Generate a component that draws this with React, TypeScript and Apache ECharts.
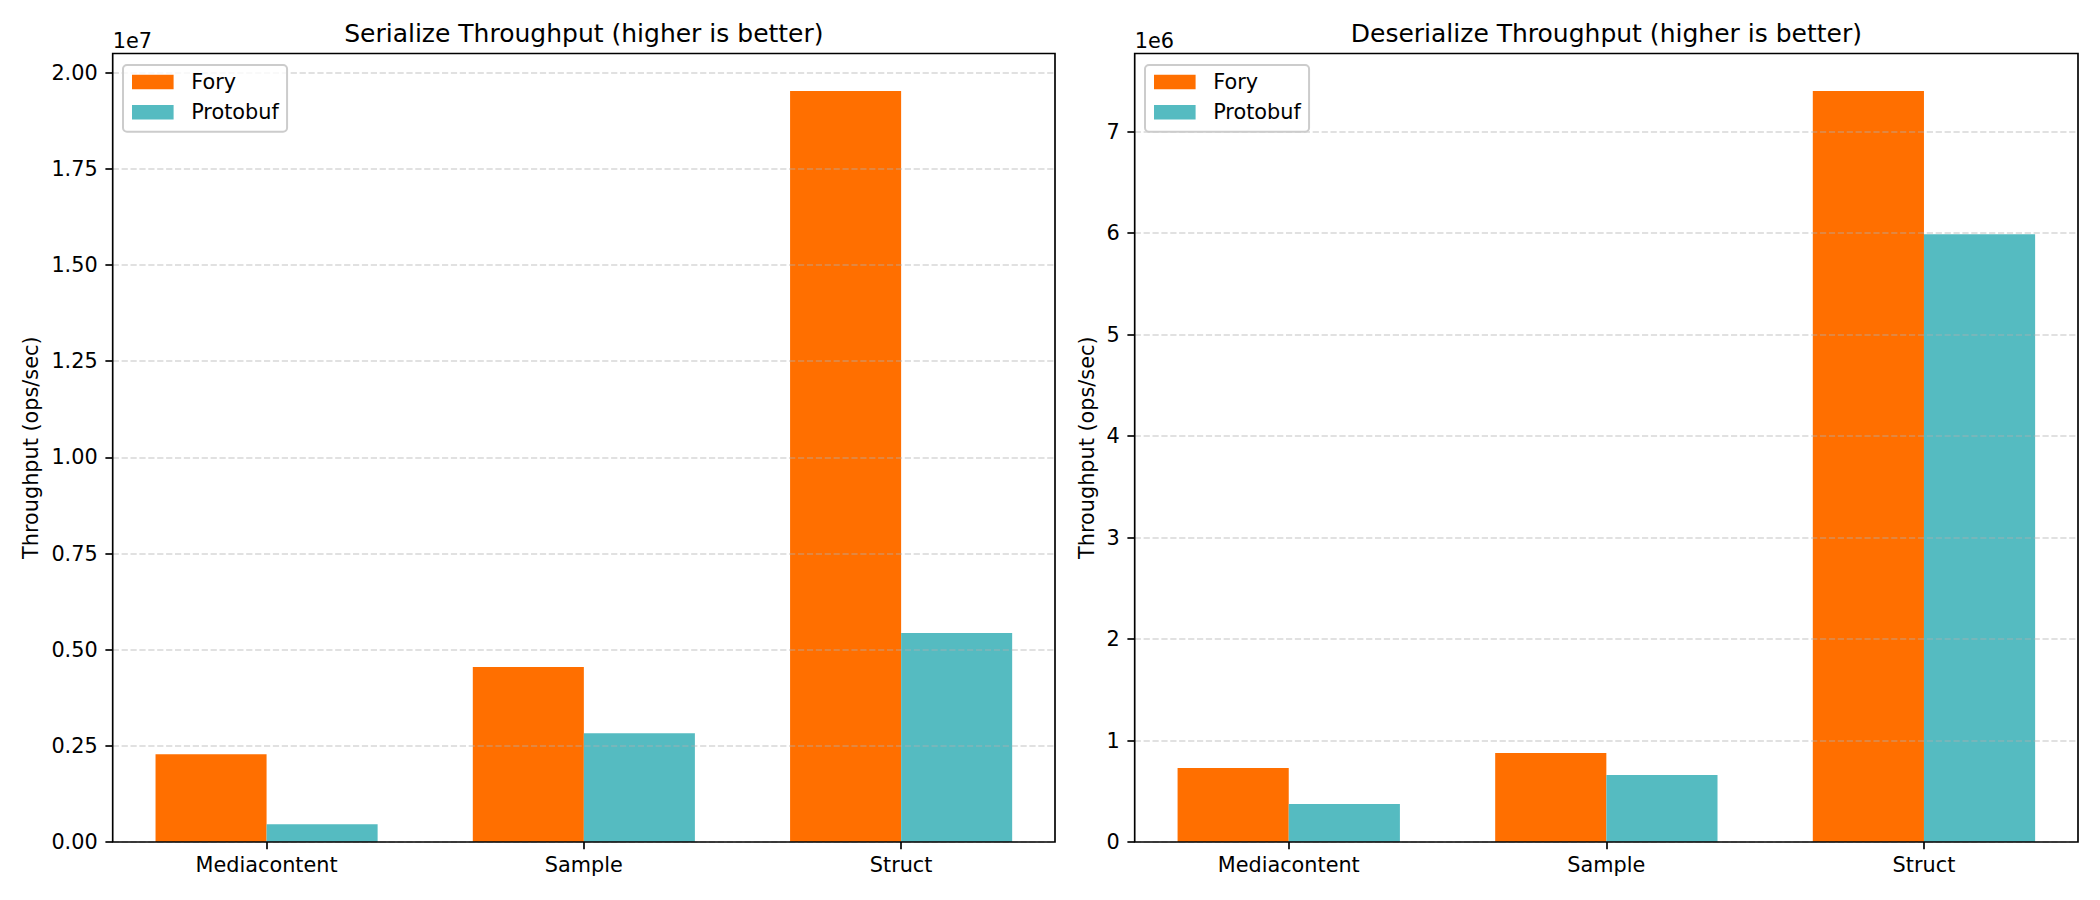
import React, { useEffect, useRef } from 'react';
import * as echarts from 'echarts';

// ---------- data ----------
const categories = ['Mediacontent', 'Sample', 'Struct'];
const seriesNames = ['Fory', 'Protobuf'];
const serializeFory = [2284000, 4549000, 19523000];
const serializeProtobuf = [460000, 2830000, 5435000];
const deserializeFory = [730000, 878000, 7400000];
const deserializeProtobuf = [375000, 661000, 5990000];
const serializeTicks = [0, 2500000, 5000000, 7500000, 10000000, 12500000, 15000000, 17500000, 20000000];
const deserializeTicks = [0, 1000000, 2000000, 3000000, 4000000, 5000000, 6000000, 7000000];
const panelTitles = ['Serialize Throughput (higher is better)', 'Deserialize Throughput (higher is better)'];
const yAxisTitle = 'Throughput (ops/sec)';
const offsetLabels = ['1e7', '1e6'];

// ---------- style / layout ----------
const FONT = 'DejaVu Sans';
const COLORS = ['#FF6F00', '#55BBC1'];
const INK = '#000000';
const LW = 1.67;
const BAR_FRAC = 0.35;
const X_PAD = (categories.length - 1 + 2 * BAR_FRAC) * 0.05;
const X_MIN = -BAR_FRAC - X_PAD;
const X_MAX = categories.length - 1 + BAR_FRAC + X_PAD;

const grids = [
  { left: 112.7, top: 53.5, width: 942.3, height: 788.5 },
  { left: 1134.7, top: 53.5, width: 943.3, height: 788.5 },
];

const panels = [
  {
    fory: serializeFory,
    proto: serializeProtobuf,
    ticks: serializeTicks,
    fmt: (v: number) => (v / 1e7).toFixed(2),
  },
  {
    fory: deserializeFory,
    proto: deserializeProtobuf,
    ticks: deserializeTicks,
    fmt: (v: number) => String(Math.round(v / 1e6)),
  },
];

const tickIdx = categories.map((_, k) => k);

function buildOption() {
  const series: any[] = [];
  panels.forEach((p, i) => {
    const g = grids[i];
    const barWidth = (g.width * BAR_FRAC) / (X_MAX - X_MIN);
    [p.fory, p.proto].forEach((vals, s) => {
      series.push({
        type: 'bar',
        name: seriesNames[s],
        xAxisIndex: i,
        yAxisIndex: i,
        data: categories.map((_, k) => [k, vals[k]]),
        barWidth,
        barGap: '0%',
        itemStyle: { color: COLORS[s] },
        emphasis: { disabled: true },
        z: 1,
      });
    });
  });

  const labelStyle = { fontFamily: FONT, fontSize: 20.8, color: INK };

  return {
    animation: false,
    backgroundColor: '#ffffff',
    grid: grids.map((g) => ({
      ...g,
      show: true,
      borderColor: INK,
      borderWidth: LW,
      backgroundColor: 'rgba(0,0,0,0)',
      z: 3,
    })),
    xAxis: grids.map((_, i) => ({
      type: 'value',
      gridIndex: i,
      position: 'bottom',
      min: X_MIN,
      max: X_MAX,
      axisLine: { show: false, onZero: false },
      splitLine: { show: false },
      axisTick: {
        show: true,
        customValues: tickIdx,
        length: 7.3,
        lineStyle: { color: INK, width: LW },
      },
      axisLabel: {
        customValues: tickIdx,
        formatter: (v: number) => categories[Math.round(v)] ?? '',
        margin: 12,
        ...labelStyle,
      },
      z: 3,
    })),
    yAxis: panels.map((p, i) => ({
      type: 'value',
      gridIndex: i,
      position: 'left',
      min: 0,
      max: Math.max(...p.fory, ...p.proto) * 1.05,
      interval: p.ticks[1] - p.ticks[0],
      axisLine: { show: false, onZero: false },
      axisTick: {
        show: true,
        customValues: p.ticks,
        length: 7.3,
        lineStyle: { color: INK, width: LW },
      },
      axisLabel: {
        customValues: p.ticks,
        formatter: p.fmt,
        margin: 15,
        ...labelStyle,
      },
      splitLine: {
        show: true,
        lineStyle: { color: 'rgba(176,176,176,0.5)', width: LW, type: [6.2, 2.7] },
      },
      z: 2,
    })),
    legend: grids.map((g) => ({
      data: seriesNames,
      orient: 'vertical',
      left: g.left + 10.3,
      top: 65,
      icon: 'rect',
      itemWidth: 41.6,
      itemHeight: 14.6,
      itemGap: 9.3,
      padding: [6.5, 8.3, 9, 9],
      borderColor: '#cccccc',
      borderWidth: 2,
      borderRadius: 4,
      backgroundColor: 'rgba(255,255,255,0.8)',
      selectedMode: false,
      textStyle: { fontFamily: FONT, fontSize: 20.8, color: INK, padding: [0, 0, 0, 12.6] },
      z: 10,
    })),
    graphic: [
      ...grids.map((g, i) => ({
        type: 'text',
        x: g.left + g.width / 2,
        y: 33,
        z: 20,
        style: {
          text: panelTitles[i],
          fontFamily: FONT,
          fontSize: 25,
          fill: INK,
          textAlign: 'center',
          textVerticalAlign: 'middle',
        },
      })),
      ...grids.map((g, i) => ({
        type: 'text',
        x: g.left,
        y: 40.5,
        z: 20,
        style: {
          text: offsetLabels[i],
          fontFamily: FONT,
          fontSize: 20.8,
          fill: INK,
          textAlign: 'left',
          textVerticalAlign: 'middle',
        },
      })),
      ...[30.5, 1087].map((x) => ({
        type: 'text',
        x,
        y: 447.7,
        rotation: Math.PI / 2,
        z: 20,
        style: {
          text: yAxisTitle,
          fontFamily: FONT,
          fontSize: 20.8,
          fill: INK,
          textAlign: 'center',
          textVerticalAlign: 'middle',
        },
      })),
    ],
    series,
  };
}

export default function App() {
  const ref = useRef<HTMLDivElement>(null);
  useEffect(() => {
    document.body.style.margin = '0';
    if (!ref.current) return;
    const chart = echarts.init(ref.current, undefined, { renderer: 'svg' });
    chart.setOption(buildOption() as any);
    return () => chart.dispose();
  }, []);
  return (
    <div
      ref={ref}
      style={{ position: 'fixed', left: 0, top: 0, width: 2100, height: 900, background: '#ffffff' }}
    />
  );
}
